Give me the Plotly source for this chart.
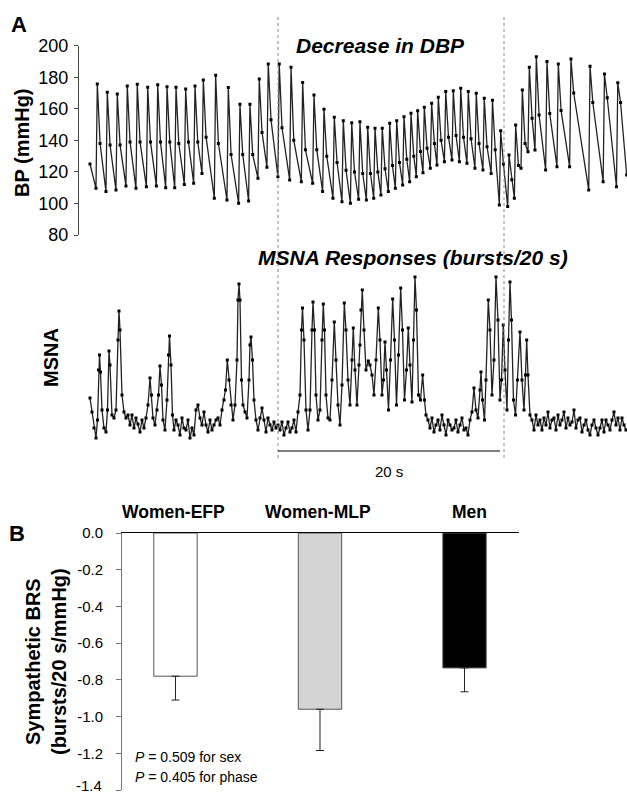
import plotly.graph_objects as go

# ---------------- Panel A data ----------------
# Arterial pressure: one entry per heart beat
bp_peak_time = [0.66, 1.56, 2.46, 3.36, 4.26, 5.20, 6.10, 6.94, 7.75, 8.62,
                9.46, 10.21, 11.32, 12.46, 13.51, 14.41, 15.25, 16.06, 17.05, 18.11,
                19.16, 20.18, 21.08, 22.01, 22.82, 23.58, 24.32, 25.02, 25.68, 26.33,
                27.00, 27.63, 28.29, 28.92, 29.52, 30.12, 30.78, 31.38, 32.05, 32.73,
                33.40, 34.08, 34.80, 35.52, 36.26, 37.00, 37.75, 38.35, 38.95, 39.58,
                40.21, 41.17, 42.19, 43.33, 45.05, 46.35, 47.55]
bp_diastolic = [109.6, 107.5, 108.6, 111.1, 109.6, 110.6, 111.0, 110.0, 110.0, 112.0,
                112.8, 119.0, 103.3, 102.2, 100.1, 101.6, 116.0, 123.0, 117.0, 114.9,
                113.8, 112.8, 107.5, 103.3, 101.1, 100.1, 102.6, 102.2, 103.3, 105.4,
                107.5, 109.6, 111.7, 113.8, 117.0, 119.5, 122.3, 124.4, 126.5, 127.6,
                126.5, 125.5, 122.3, 121.2, 119.0, 99.0, 98.0, 103.3, 122.3, 132.8,
                133.9, 121.2, 123.3, 123.3, 108.6, 113.8, 110.6]
bp_systolic = [175.7, 170.5, 169.4, 174.5, 175.5, 173.6, 175.3, 174.0, 173.6, 172.6,
               174.5, 178.3, 181.2, 173.5, 162.9, 162.9, 178.9, 188.4, 188.4, 186.3,
               176.6, 168.8, 159.7, 154.6, 152.5, 151.2, 151.8, 148.3, 147.6, 147.6,
               150.8, 152.5, 155.0, 157.2, 158.8, 161.0, 163.5, 167.3, 170.9, 171.5,
               173.0, 170.9, 169.8, 166.7, 165.4, 146.1, 130.7, 149.7, 171.9, 186.3,
               193.0, 190.0, 188.4, 191.5, 187.0, 182.0, 176.5]
bp_notch = [138, 137, 137, 139, 139, 139, 139, 139, 138, 139,
            139, 142, 138, 131, 131, 131, 145, 153, 148, 140,
            134, 134, 130, 126, 121, 120, 119, 119, 120, 122,
            124, 126, 128, 130, 133, 135, 138, 140, 142, 143,
            142, 141, 138, 136, 134, 125, 115, 124, 138, 154,
            156, 157, 159, 170, 164, 167, 164]
bp_start = (0.0, 125.0)
bp_end = (48.35, 118.0)

# MSNA neurogram (integrated), sample index at 11.1 samples/s, amplitude a.u.
FS = 11.1
msna_sample = [0, 2, 4, 6, 7.5, 8.5, 9.5, 10.5, 12, 14, 16, 17.5, 19, 20, 22, 24, 26, 28, 29, 30,
               32, 34, 36, 38, 40, 42, 44, 46, 48, 50, 52, 54, 56, 58, 60, 61.5, 63, 65, 67, 68.5,
               70, 71.5, 73, 75, 77, 78.5, 79.5, 81, 82.5, 84, 86, 88, 90, 92, 94, 96, 98, 100, 102, 104,
               106, 108, 110, 112, 114, 116, 118, 120, 122, 124, 126, 128, 130, 132, 134, 135.5, 137.3, 139, 141, 143,
               145, 147, 148, 149, 150, 151.5, 153, 155, 157, 159, 160, 161, 162.5, 164, 166, 168, 170, 172, 174, 176,
               178, 180, 182, 184, 186, 188, 190, 192, 194, 196, 198, 200, 202, 204, 206, 208, 210, 211.5, 212.5, 214,
               216, 218, 220, 222, 223, 224.5, 226, 228, 230, 232, 233.3, 234.5, 236, 238, 240, 242, 244.3, 246, 248, 250,
               252, 254.3, 256, 258, 260, 262, 263.3, 265, 267, 269, 270, 271, 272.3, 274, 276, 278.3, 280, 282, 284, 286,
               288.3, 290, 292, 293.5, 295, 296.5, 298.5, 300.5, 302.7, 304.5, 306.5, 308.5, 310.7, 312.5, 314.5, 316.5, 318.3, 320, 322, 323.5,
               325, 326.5, 328.5, 330.5, 332.7, 334.5, 336, 338, 340, 342, 344, 346, 348, 350, 352, 354, 356, 358, 360, 362,
               364, 366, 368, 370, 372, 374, 376, 378, 380, 382, 384, 386, 388, 390, 391, 392.5, 394.5, 396, 398.3, 400,
               402, 404, 406, 408, 410, 411.5, 413.3, 415, 417, 418.5, 420, 421.5, 423.5, 425.5, 427.5, 430, 432, 434, 435.5, 436.7,
               438, 440, 442, 444, 446, 448, 450, 452, 454, 456, 458, 460, 462, 464, 466, 468, 470, 472, 474, 476,
               478, 480, 482, 484, 486, 488, 490, 492, 494, 496, 498, 500, 502, 504, 506, 508, 510, 512, 514, 516,
               518, 520, 522, 524, 526, 528, 530, 532, 534, 536]
msna_amp = [47, 33, 17, 7, 25, 75, 90, 73, 35, 17, 13, 35, 94, 80, 30, 27, 35, 105, 134, 115,
            50, 33, 27, 30, 20, 30, 17, 27, 21, 13, 25, 17, 27, 40, 67, 50, 27, 20, 35, 50,
            79, 60, 25, 15, 45, 90, 109, 80, 30, 15, 25, 20, 10, 27, 17, 15, 25, 7, 17, 10,
            35, 40, 27, 20, 33, 20, 13, 25, 15, 20, 25, 27, 20, 35, 45, 55, 85, 65, 40, 25,
            40, 85, 145, 161, 145, 65, 40, 33, 27, 65, 100, 108, 85, 45, 25, 15, 27, 37, 25, 13,
            27, 20, 15, 23, 17, 20, 15, 23, 10, 17, 23, 13, 17, 25, 13, 33, 50, 115, 137, 105,
            35, 15, 35, 115, 143, 115, 50, 25, 35, 105, 141, 115, 50, 27, 25, 65, 123, 85, 40, 20,
            60, 142, 115, 65, 40, 85, 117, 75, 40, 80, 100, 135, 155, 115, 75, 84, 80, 70, 50, 85,
            137, 105, 50, 65, 103, 75, 35, 85, 146, 105, 40, 90, 157, 115, 45, 75, 117, 80, 43, 105,
            168, 135, 50, 45, 70, 45, 30, 25, 17, 27, 13, 20, 25, 15, 30, 20, 10, 25, 20, 15,
            17, 25, 13, 20, 27, 15, 17, 10, 25, 33, 57, 35, 27, 55, 73, 45, 25, 65, 145, 115,
            50, 85, 168, 125, 45, 65, 120, 75, 35, 105, 163, 125, 45, 30, 65, 113, 65, 35, 70, 105,
            70, 30, 25, 15, 30, 20, 25, 15, 27, 20, 33, 17, 25, 27, 15, 30, 20, 25, 33, 17,
            27, 20, 23, 35, 17, 25, 27, 13, 20, 25, 15, 10, 20, 25, 17, 10, 17, 25, 13, 25,
            20, 15, 25, 33, 20, 27, 15, 27, 20, 15]

event_times = [16.94, 37.30]        # dotted markers (s)
scale_bar = [16.94, 36.94]          # 20 s calibration bar

# ---------------- Panel B data ----------------
groups = ["Women-EFP", "Women-MLP", "Men"]
brs_mean = [-0.78, -0.96, -0.735]
brs_sem = [0.13, 0.225, 0.13]
bar_colors = ["#ffffff", "#d3d4d3", "#000000"]
brs_ticks = [0, -0.2, -0.4, -0.6, -0.8, -1.0, -1.2, -1.4]
p_texts = ["<i>P</i> = 0.509 for sex", "<i>P</i> = 0.405 for phase"]

FONT = "Liberation Sans, Arial, sans-serif"
W, H = 627, 794


def px(x):
    return x / W


def py(y):
    return 1 - y / H


# build BP waveform from beat landmarks
bp_t = [bp_start[0]]
bp_v = [bp_start[1]]
for tp, d, s, n in zip(bp_peak_time, bp_diastolic, bp_systolic, bp_notch):
    bp_t += [tp - 0.12, tp, tp + 0.25]
    bp_v += [d, s, n]
bp_t.append(bp_end[0])
bp_v.append(bp_end[1])

msna_t = [s / FS for s in msna_sample]

fig = go.Figure()
fig.add_trace(go.Scatter(x=bp_t, y=bp_v, mode="lines+markers",
                         line=dict(color="#222", width=1.3),
                         marker=dict(color="#000", size=3, symbol="square"),
                         xaxis="x", yaxis="y", showlegend=False, hoverinfo="skip", cliponaxis=True))
fig.add_trace(go.Scatter(x=msna_t, y=msna_amp, mode="lines+markers",
                         line=dict(color="#222", width=1.3),
                         marker=dict(color="#000", size=3, symbol="square"),
                         xaxis="x2", yaxis="y2", showlegend=False, hoverinfo="skip", cliponaxis=True))
fig.add_trace(go.Bar(x=[0, 1, 2], y=brs_mean, width=0.3,
                     marker=dict(color=bar_colors, line=dict(color="#555", width=1)),
                     error_y=dict(type="data", symmetric=False, array=[0, 0, 0],
                                  arrayminus=brs_sem, color="#222", thickness=1, width=4),
                     xaxis="x3", yaxis="y3", showlegend=False, hoverinfo="skip"))

xr = [-0.99, 48.38]
hidden = dict(visible=False, showgrid=False, zeroline=False, automargin=False)

shapes = []
for t in event_times:
    shapes.append(dict(type="line", xref="x", yref="paper", x0=t, x1=t,
                       y0=py(458), y1=py(15),
                       line=dict(color="#888", width=1, dash="dot")))
shapes.append(dict(type="line", xref="x2", yref="paper", x0=scale_bar[0], x1=scale_bar[1],
                   y0=py(451), y1=py(451), line=dict(color="#000", width=1)))


def label(text, x, y, size, angle=0, xref="paper", yref="paper", **kw):
    d = dict(text=text, x=x, y=y, xref=xref, yref=yref, showarrow=False,
             xanchor="center", yanchor="middle", textangle=angle,
             font=dict(size=size, family=FONT, color="#000"))
    d.update(kw)
    return d


def tick_text(v):
    return ("-" if v < 0 else "") + f"{abs(v):.1f}"


ann = [
    label("<b>A</b>", px(19), py(25), 22),
    label("<b>B</b>", px(17), py(533), 22),
    label("<b>BP (mmHg)</b>", px(22), py(143), 20, angle=-90),
    label("<b>MSNA</b>", px(51), py(357), 20, angle=-90),
    label("<b><i>Decrease in DBP</i></b>", px(380), py(45), 21),
    label("<b><i>MSNA Responses (bursts/20 s)</i></b>", px(413), py(258), 21),
    label("20 s", (scale_bar[0] + scale_bar[1]) / 2, py(471), 15, xref="x2"),
    label("<b>Sympathetic BRS<br>(bursts/20 s/mmHg)</b>", px(46), py(662), 20, angle=-90),
    # lowest tick label sits at the page edge; drawn as text, nudged up so it stays visible
    label(tick_text(brs_ticks[-1]), px(104), brs_ticks[-1], 15, yref="y3", xanchor="right",
          yshift=5),
]
for i, g in enumerate(groups):
    ann.append(label(f"<b>{g}</b>", i, py(512), 17.5, xref="x3", xshift=[-2, -2, 5][i]))
for j, t in enumerate(p_texts):
    ann.append(label(t, px(133), py(757 + 20 * j), 14, xanchor="left"))

fig.update_layout(
    template="none",
    width=W, height=H, margin=dict(l=0, r=0, t=0, b=0, pad=0, autoexpand=False),
    paper_bgcolor="white", plot_bgcolor="rgba(0,0,0,0)",
    font=dict(family=FONT, color="#000"),
    xaxis=dict(domain=[px(79), 1], range=xr, anchor="y", **hidden),
    yaxis=dict(domain=[py(235), py(45.7)], range=[80, 200], anchor="x", automargin=False,
               tickvals=[80, 100, 120, 140, 160, 180, 200],
               showline=True, linecolor="#444", linewidth=1, ticks="outside", ticklen=4,
               tickcolor="#444", showgrid=False, zeroline=False, ticklabelstandoff=2,
               tickfont=dict(size=18, family=FONT, color="#000")),
    xaxis2=dict(domain=[px(79), 1], range=xr, anchor="y2", **hidden),
    yaxis2=dict(domain=[py(445), py(270)], range=[0, 175], anchor="x2", **hidden),
    xaxis3=dict(domain=[px(122), px(519)], range=[-0.37, 2.377], anchor="y3", side="top",
                showline=True, linecolor="#000", linewidth=1, ticks="", showticklabels=False,
                showgrid=False, zeroline=False, automargin=False),
    yaxis3=dict(domain=[py(790), py(533)], range=[-1.4, 0], anchor="x3", automargin=False,
                tickvals=brs_ticks,
                ticktext=[tick_text(v) for v in brs_ticks[:-1]] + [""],
                showline=True, linecolor="#777", linewidth=1, ticks="outside", ticklen=5,
                tickcolor="#777", showgrid=False, zeroline=False, ticklabelstandoff=10,
                tickfont=dict(size=15, family=FONT, color="#000")),
    shapes=shapes, annotations=ann,
)

fig.write_html("out.html", config={"displayModeBar": False},
               post_script="document.body.style.margin='0';")
